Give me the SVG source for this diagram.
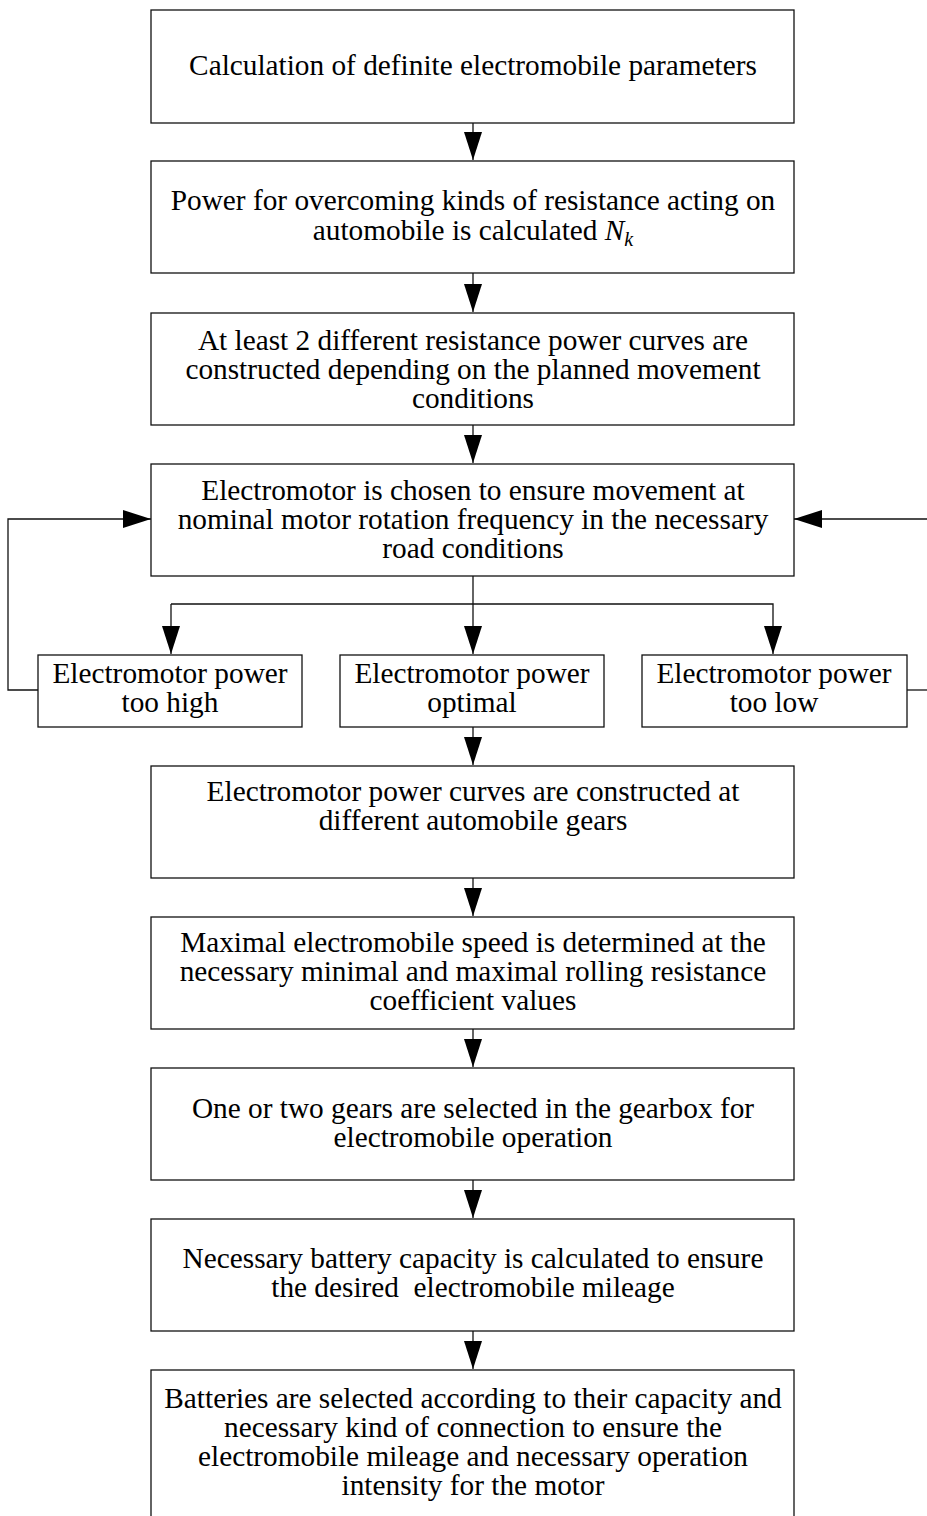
<svg xmlns="http://www.w3.org/2000/svg" width="927" height="1516" viewBox="0 0 927 1516">
<style>
.box{fill:#fff;stroke:#111;stroke-width:1.3}
.t{font-family:"Liberation Serif","Times New Roman",serif;font-size:29.3px;fill:#000;text-anchor:middle}
.c{fill:none;stroke:#111;stroke-width:1.3}
</style>
<defs>
<marker id="a" viewBox="0 0 28 18" refX="28" refY="9" markerWidth="28" markerHeight="18" orient="auto" markerUnits="userSpaceOnUse">
<path d="M0,0 L28,9 L0,18 Z" fill="#000"/>
</marker>
</defs>
<g id="connectors">
<line class="c" x1="473" y1="123" x2="473" y2="160" marker-end="url(#a)"/>
<line class="c" x1="473" y1="273" x2="473" y2="312" marker-end="url(#a)"/>
<line class="c" x1="473" y1="425" x2="473" y2="463" marker-end="url(#a)"/>
<line class="c" x1="473" y1="576" x2="473" y2="654" marker-end="url(#a)"/>
<polyline class="c" points="171,604 773,604 773,654" marker-end="url(#a)"/>
<line class="c" x1="171" y1="604" x2="171" y2="654" marker-end="url(#a)"/>
<polyline class="c" points="38,690 8,690 8,519 151,519" marker-end="url(#a)"/>
<line class="c" x1="907" y1="690" x2="927" y2="690"/>
<line class="c" x1="927" y1="519" x2="794" y2="519" marker-end="url(#a)"/>
<line class="c" x1="473" y1="727" x2="473" y2="765" marker-end="url(#a)"/>
<line class="c" x1="473" y1="878" x2="473" y2="916" marker-end="url(#a)"/>
<line class="c" x1="473" y1="1029" x2="473" y2="1067" marker-end="url(#a)"/>
<line class="c" x1="473" y1="1180" x2="473" y2="1218" marker-end="url(#a)"/>
<line class="c" x1="473" y1="1331" x2="473" y2="1369" marker-end="url(#a)"/>
</g>
<g id="n1"><rect class="box" x="151" y="10" width="643" height="113"/>
<text class="t" x="473" y="75">Calculation of definite electromobile parameters</text></g>
<g id="n2"><rect class="box" x="151" y="161" width="643" height="112"/>
<text class="t" x="473" y="210">Power for overcoming kinds of resistance acting on</text>
<text class="t" x="473" y="240">automobile is calculated <tspan font-style="italic">N</tspan><tspan font-style="italic" font-size="20" dy="6">k</tspan></text></g>
<g id="n3"><rect class="box" x="151" y="313" width="643" height="112"/>
<text class="t" x="473" y="350">At least 2 different resistance power curves are</text>
<text class="t" x="473" y="379">constructed depending on the planned movement</text>
<text class="t" x="473" y="408">conditions</text></g>
<g id="n4"><rect class="box" x="151" y="464" width="643" height="112"/>
<text class="t" x="473" y="500">Electromotor is chosen to ensure movement at</text>
<text class="t" x="473" y="529">nominal motor rotation frequency in the necessary</text>
<text class="t" x="473" y="558">road conditions</text></g>
<g id="n5a"><rect class="box" x="38" y="655" width="264" height="72"/>
<text class="t" x="170" y="683">Electromotor power</text>
<text class="t" x="170" y="712">too high</text></g>
<g id="n5b"><rect class="box" x="340" y="655" width="264" height="72"/>
<text class="t" x="472" y="683">Electromotor power</text>
<text class="t" x="472" y="712">optimal</text></g>
<g id="n5c"><rect class="box" x="642" y="655" width="265" height="72"/>
<text class="t" x="774" y="683">Electromotor power</text>
<text class="t" x="774" y="712">too low</text></g>
<g id="n6"><rect class="box" x="151" y="766" width="643" height="112"/>
<text class="t" x="473" y="801">Electromotor power curves are constructed at</text>
<text class="t" x="473" y="830">different automobile gears</text></g>
<g id="n7"><rect class="box" x="151" y="917" width="643" height="112"/>
<text class="t" x="473" y="952">Maximal electromobile speed is determined at the</text>
<text class="t" x="473" y="981">necessary minimal and maximal rolling resistance</text>
<text class="t" x="473" y="1010">coefficient values</text></g>
<g id="n8"><rect class="box" x="151" y="1068" width="643" height="112"/>
<text class="t" x="473" y="1118">One or two gears are selected in the gearbox for</text>
<text class="t" x="473" y="1147">electromobile operation</text></g>
<g id="n9"><rect class="box" x="151" y="1219" width="643" height="112"/>
<text class="t" x="473" y="1268">Necessary battery capacity is calculated to ensure</text>
<text class="t" x="473" y="1297" xml:space="preserve">the desired  electromobile mileage</text></g>
<g id="n10"><rect class="box" x="151" y="1370" width="643" height="160"/>
<text class="t" x="473" y="1408">Batteries are selected according to their capacity and</text>
<text class="t" x="473" y="1437">necessary kind of connection to ensure the</text>
<text class="t" x="473" y="1466">electromobile mileage and necessary operation</text>
<text class="t" x="473" y="1495">intensity for the motor</text></g>
</svg>
